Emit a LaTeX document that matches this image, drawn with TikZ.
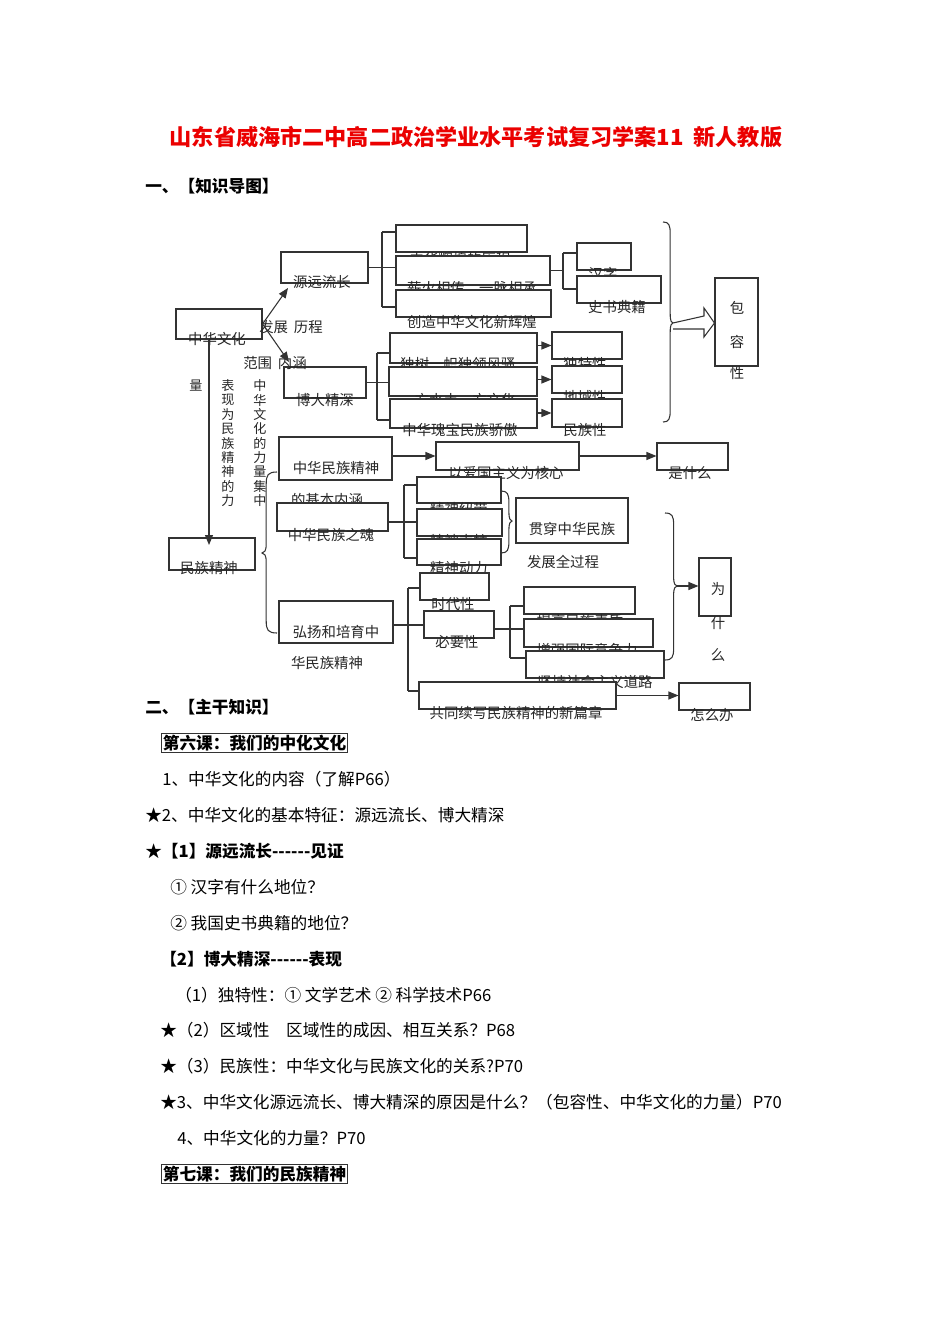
\documentclass[tikz,border=0pt]{standalone}
\usepackage{fontspec}
\setmainfont{Noto Sans CJK SC}[Ligatures=TeXOff]
\usetikzlibrary{arrows.meta,fit}
\newcommand\mkbox[5]{\coordinate (#1-a) at (#2,#3);\coordinate (#1-b) at (#4,#5);\node[bx, fit=(#1-a)(#1-b)] (#1) {};}
\newcommand\mktx[4]{\node[tx] (#1) at (#2,#3) {#4};}
\newcommand\brc[6]{% name, x0, ytop, ybot, ymid, signed width
\draw[ln] (#2,#3) .. controls ({#2+#6*0.6},#3) and ({#2+#6*0.72},{#3+3}) .. ({#2+#6*0.72},{#3+12}) -- ({#2+#6*0.72},{#5-9}) .. controls ({#2+#6*0.72},{#5-2}) and ({#2+#6*0.85},#5) .. ({#2+#6},#5) coordinate (#1) .. controls ({#2+#6*0.85},#5) and ({#2+#6*0.72},{#5+2}) .. ({#2+#6*0.72},{#5+9}) -- ({#2+#6*0.72},{#4-12}) .. controls ({#2+#6*0.72},{#4-3}) and ({#2+#6*0.6},#4) .. (#2,#4);}
\begin{document}
\begin{tikzpicture}[x=0.75pt,y=-0.75pt,
  bx/.style={draw=black!80, line width=0.8pt, fill=white, inner sep=0pt},
  tx/.style={inner sep=0pt, font=\fontsize{10.8}{12}\selectfont, text=black!85},
  vt/.style={inner sep=0pt, font=\fontsize{9.8}{10}\selectfont, text=black!85},
  ln/.style={draw=black!80, line width=0.8pt},
  arr/.style={ln, -{Triangle[length=7.5pt,width=6pt]}},
  body/.style={anchor=west, inner sep=0pt, font=\fontsize{12.5}{14}\selectfont},
  bbody/.style={anchor=west, inner sep=0pt, font=\fontsize{12.5}{14}\selectfont\bfseries},
  lesson/.style={anchor=west, draw=black!80, line width=0.8pt, inner sep=1pt, font=\fontsize{12.5}{14}\selectfont\bfseries}]
\fill[white] (0,0) rectangle (950,1344);
\useasboundingbox (0,0) rectangle (950,1344);

% title and headings
\node[inner sep=0pt, font=\fontsize{16.6}{18}\selectfont\bfseries, text={rgb,255:red,235;green,0;blue,0}] (title) at (476,137) {山东省威海市二中高二政治学业水平考试复习学案11\hspace{0.45em}新人教版};
\node[bbody] (h1) at (145,186) {一、【知识导图】};

% ---------- diagram: left column ----------
\mkbox{zh}{176}{309}{262}{339}
\mktx{zh-t}{217}{339}{中华文化}
\mkbox{yy}{281}{252}{368}{283}
\mktx{yy-t}{322}{282}{源远流长}
\mkbox{bd}{284}{367}{366}{398}
\mktx{bd-t}{325}{400}{博大精深}
\mktx{lbl1}{291}{327}{发展\hspace{0.4em}历程}
\mktx{lbl2}{275}{363}{范围\hspace{0.4em}内涵}

% vertical texts
\foreach \c [count=\i from 0] in {中,华,文,化,的,力,量,集,中} \node[vt] (va-\i) at (260,{386+14.3*\i}) {\c};
\foreach \c [count=\i from 0] in {表,现,为,民,族,精,神,的,力} \node[vt] (vb-\i) at (228,{386+14.3*\i}) {\c};
\node[vt] (vc) at (196,386) {量};

% 源远流长 branch
\mkbox{a1}{396}{225}{527}{252}
\mktx{a1-t}{460}{259}{中华辉煌的历程}
\mkbox{a2}{396}{256}{550}{285}
\mktx{a2-t}{472}{288}{薪火相传，一脉相承}
\mkbox{a3}{396}{290}{551}{317}
\mktx{a3-t}{472}{322}{创造中华文化新辉煌}
\mkbox{hz}{577}{243}{631}{270}
\mktx{hz-t}{603}{274}{汉字}
\mkbox{ss}{577}{276}{661}{303}
\mktx{ss-t}{617}{307}{史书典籍}

% 博大精深 branch
\mkbox{b1}{390}{333}{537}{363}
\mktx{b1-t}{458}{364}{独树一帜独领风骚}
\mkbox{b2}{389}{367}{537}{396}
\mktx{b2-t}{458}{400}{一方水土一方文化}
\mkbox{b3}{390}{399}{537}{428}
\mktx{b3-t}{460}{430}{中华瑰宝民族骄傲}
\mkbox{c1}{552}{332}{622}{359}
\mktx{c1-t}{585}{364}{独特性}
\mkbox{c2}{552}{366}{622}{393}
\mktx{c2-t}{585}{397}{地域性}
\mkbox{c3}{552}{399}{622}{427}
\mktx{c3-t}{585}{430}{民族性}

% 包容性
\mkbox{bao}{715}{278}{758}{366}
\node[tx] (bao-1) at (737,308) {包};
\node[tx] (bao-2) at (737,342) {容};
\node[tx] (bao-3) at (737,373) {性};

% ---------- 民族精神 ----------
\mkbox{mz}{169}{538}{255}{570}
\mktx{mz-t}{209}{568}{民族精神}
\mkbox{m1}{279}{437}{392}{480}
\mktx{m1-t1}{336}{468}{中华民族精神}
\mktx{m1-t2}{327}{500}{的基本内涵}
\mkbox{m2}{277}{503}{388}{531}
\mktx{m2-t}{331}{535}{中华民族之魂}
\mkbox{m3}{279}{601}{393}{643}
\mktx{m3-t1}{336}{632}{弘扬和培育中}
\mktx{m3-t2}{327}{663}{华民族精神}

\mkbox{p}{436}{442}{579}{470}
\mktx{p-t}{506}{473}{以爱国主义为核心}
\mkbox{q}{657}{443}{728}{470}
\mktx{q-t}{690}{473}{是什么}

\mkbox{n1}{417}{477}{501}{503}
\mktx{n1-t}{459}{509}{精神纽带}
\mkbox{n2}{417}{509}{502}{536}
\mktx{n2-t}{459}{541}{精神支柱}
\mkbox{n3}{417}{539}{501}{565}
\mktx{n3-t}{459}{568}{精神动力}
\mkbox{g}{516}{498}{628}{543}
\mktx{g-t1}{572}{529}{贯穿中华民族}
\mktx{g-t2}{563}{562}{发展全过程}

\mkbox{r1}{420}{573}{489}{600}
\mktx{r1-t}{453}{604}{时代性}
\mkbox{r2}{424}{611}{494}{638}
\mktx{r2-t}{457}{642}{必要性}

\mkbox{s1}{524}{587}{635}{614}
\mktx{s1-t}{580}{621}{提高民族素质}
\mkbox{s2}{524}{619}{653}{647}
\mktx{s2-t}{587}{650}{增强国际竞争力}
\mkbox{s3}{526}{651}{664}{678}
\mktx{s3-t}{595}{682}{坚持社会主义道路}

\mkbox{w}{419}{682}{616}{709}
\mktx{w-t}{516}{713}{共同续写民族精神的新篇章}
\mkbox{z}{679}{683}{750}{710}
\mktx{z-t}{712}{715}{怎么办}

\mkbox{wsm}{699}{558}{731}{616}
\node[tx] (wsm-1) at (718,589) {为};
\node[tx] (wsm-2) at (718,623) {什};
\node[tx] (wsm-3) at (718,655) {么};

% ---------- connectors ----------
\coordinate (yy-in) at (288,288);
\coordinate (bd-in) at (289,362);
\draw[arr] (zh.east) -- (yy-in);
\draw[arr] (zh.east) -- (bd-in);
\coordinate (mz-top) at (209,545);
\draw[arr] (zh.south -| mz-top) -- (mz-top);

\coordinate (j1t) at (382,232); \coordinate (j1b) at (382,307);
\draw[ln] (yy.east) -- (yy.east -| j1t);
\draw[ln] (j1t) -- (j1b);
\draw[ln] (j1t) -- (j1t -| a1.west);
\draw[ln] (yy.east -| j1t) -- (yy.east -| a2.west);
\draw[ln] (j1b) -- (j1b -| a3.west);

\coordinate (j2t) at (563,253); \coordinate (j2b) at (563,289);
\draw[ln] (a2.east) -- (a2.east -| j2t);
\draw[ln] (j2t) -- (j2b);
\draw[ln] (j2t) -- (j2t -| hz.west);
\draw[ln] (j2b) -- (j2b -| ss.west);

\coordinate (j3t) at (377,353); \coordinate (j3b) at (377,420);
\draw[ln] (bd.east) -- (bd.east -| j3t);
\draw[ln] (j3t) -- (j3b);
\draw[ln] (j3t) -- (j3t -| b1.west);
\draw[ln] (bd.east -| j3t) -- (bd.east -| b2.west);
\draw[ln] (j3b) -- (j3b -| b3.west);

\draw[arr] (c1.west -| b1.east) -- (c1.west);
\draw[arr] (c2.west -| b2.east) -- (c2.west);
\draw[arr] (c3.west -| b3.east) -- (c3.west);

\brc{br1}{663}{222}{422}{323}{10}
\draw[ln, fill=white] (br1) -- (704,316) -- (704,308) -- (bao.west |- br1) -- (704,337) -- (704,329) -- (673,329);

\brc{br2}{277}{472}{633}{553}{-15}

\draw[arr] (m1.east |- p.west) -- (p.west);
\draw[arr] (p.east) -- (p.east -| q.west);

\coordinate (j4t) at (404,485); \coordinate (j4m) at (404,522); \coordinate (j4b) at (404,558);
\draw[ln] (m2.east |- j4m) -- (j4m);
\draw[ln] (j4t) -- (j4b);
\draw[ln] (j4t) -- (j4t -| n1.west);
\draw[ln] (j4m) -- (j4m -| n2.west);
\draw[ln] (j4b) -- (j4b -| n3.west);
\brc{br3}{501}{491}{553}{521}{11}

\coordinate (j5t) at (408,588); \coordinate (j5m) at (408,625); \coordinate (j5b) at (408,691);
\draw[ln] (m3.east |- j5m) -- (j5m);
\draw[ln] (j5t) -- (j5b);
\draw[ln] (j5t) -- (j5t -| r1.west);
\draw[ln] (j5m) -- (j5m -| r2.west);
\draw[ln] (j5b) -- (j5b -| w.west);

\coordinate (j6t) at (510,606); \coordinate (j6m) at (510,629); \coordinate (j6b) at (510,658);
\draw[ln] (r2.east |- j6m) -- (j6m);
\draw[ln] (j6t) -- (j6b);
\draw[ln] (j6t) -- (j6t -| s1.west);
\draw[ln] (j6m) -- (j6m -| s2.west);
\draw[ln] (j6b) -- (j6b -| s3.west);

\draw[arr] (w.east) -- (w.east -| z.west);

\brc{br4}{665}{513}{660}{586}{12}
\draw[arr] (br4) -- (br4 -| wsm.west);

% ---------- main text ----------
\node[bbody] (h2) at (145,707) {二、【主干知识】};
\node[lesson] (l6) at (161,743) {第六课：我们的中化文化};
\node[body] (t1) at (162,779) {1、中华文化的内容（了解P66）};
\node[body] (t2) at (145,815) {★2、中华文化的基本特征：源远流长、博大精深};
\node[bbody] (t3) at (145,851) {★【1】源远流长------见证};
\node[body] (t4) at (170,887) {① 汉字有什么地位？};
\node[body] (t5) at (170,923) {② 我国史书典籍的地位？};
\node[bbody] (t6) at (160,959) {【2】博大精深------表现};
\node[body] (t7) at (175,995) {（1）独特性：① 文学艺术 ② 科学技术P66};
\node[body] (t8) at (160,1030) {★（2）区域性\quad 区域性的成因、相互关系？P68};
\node[body] (t9) at (160,1066) {★（3）民族性：中华文化与民族文化的关系?P70};
\node[body] (t10) at (160,1102) {★3、中华文化源远流长、博大精深的原因是什么？（包容性、中华文化的力量）P70};
\node[body] (t11) at (177,1138) {4、中华文化的力量？P70};
\node[lesson] (l7) at (161,1174) {第七课：我们的民族精神};
\end{tikzpicture}
\end{document}
